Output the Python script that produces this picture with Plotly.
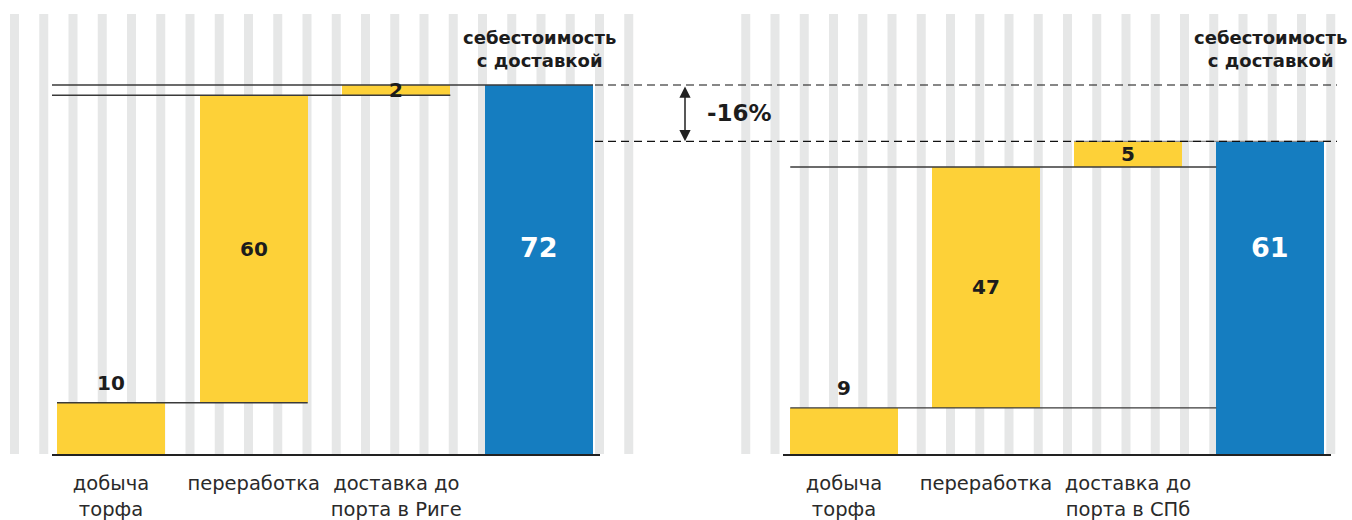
import plotly.graph_objects as go

# ---------------- data ----------------
step_names_riga = ["добыча<br>торфа", "переработка", "доставка до<br>порта в Риге"]
step_names_spb = ["добыча<br>торфа", "переработка", "доставка до<br>порта в СПб"]
total_name = "себестоимость<br>с доставкой"

riga_steps = [10, 60, 2]
riga_total = 72
spb_steps = [9, 47, 5]
spb_total = 61

change_label = "-16%"

# ---------------- style ----------------
W, H = 1352, 520
YELLOW = "#FDD138"
BLUE = "#157DC0"
STRIPE = "#E6E7E7"
LINE = "#3a3a3a"
TEXT = "#1c1c1c"
FONT = "DejaVu Sans"
PX_PER_UNIT = 5.125
BASE_PX = 454  # baseline pixel row
BAR_W = 0.757

def py(px):  # pixel row -> paper y
    return (H - px) / H

def pxx(px):  # pixel column -> paper x
    return px / W

fig = go.Figure()

panels = [
    dict(steps=riga_steps, total=riga_total, names=step_names_riga,
         xa="x", dom=(52, 600), c0=111, dc=142.67),
    dict(steps=spb_steps, total=spb_total, names=step_names_spb,
         xa="x2", dom=(783, 1331), c0=844, dc=142.0),
]

for pi, p in enumerate(panels):
    steps, total = p["steps"], p["total"]
    n = len(steps)
    bases, cum = [], 0
    for v in steps:
        bases.append(cum)
        cum += v
    xs = list(range(n + 1))
    fig.add_trace(go.Bar(
        x=xs, y=steps + [total], base=bases + [0], width=BAR_W,
        marker=dict(color=[YELLOW] * n + [BLUE], line=dict(width=0)),
        xaxis=p["xa"], yaxis="y", showlegend=False, hoverinfo="skip",
    ))
    xmin = (p["dom"][0] - p["c0"]) / p["dc"]
    xmax = (p["dom"][1] - p["c0"]) / p["dc"]
    half = BAR_W / 2
    levels = [sum(steps[:i + 1]) for i in range(n)]
    # connector lines
    for i, lv in enumerate(levels):
        if pi == 0:
            x0 = -half if i == 0 else xmin
            x1 = (i + 1) + half
        else:
            x0 = -half
            x1 = n - half
            if i == n - 1:
                x0, x1 = (n - 1) - half, xmax + 0.02
        color = LINE if not (pi == 1 and i == n - 1) else "#8a8a8a"
        fig.add_trace(go.Scatter(
            x=[x0, x1], y=[lv, lv], mode="lines",
            line=dict(color=color, width=1.3),
            xaxis=p["xa"], yaxis="y", showlegend=False, hoverinfo="skip",
        ))
    # value labels
    for i, v in enumerate(steps):
        if i == 0:
            fig.add_annotation(x=i, y=bases[i] + v, xref=p["xa"], yref="y",
                               text=str(v), showarrow=False, yanchor="bottom", yshift=6,
                               font=dict(family=FONT, size=20, color=TEXT, weight="bold"))
        else:
            fig.add_annotation(x=i, y=bases[i] + v / 2, xref=p["xa"], yref="y",
                               text=str(v), showarrow=False, yanchor="middle",
                               font=dict(family=FONT, size=20, color=TEXT, weight="bold"))
    fig.add_annotation(x=n, y=py(248), xref=p["xa"], yref="paper",
                       text=str(total), showarrow=False, yanchor="middle",
                       font=dict(family=FONT, size=27, color="white", weight="bold"))
    fig.add_annotation(x=n, y=py(49), xref=p["xa"], yref="paper",
                       text=total_name, showarrow=False, yanchor="middle",
                       font=dict(family=FONT, size=18, color=TEXT, weight="bold"))
    axis = dict(
        domain=[pxx(p["dom"][0]), pxx(p["dom"][1])], range=[xmin, xmax],
        tickmode="array", tickvals=xs, ticktext=p["names"] + [""],
        showgrid=False, zeroline=False, showline=True, linecolor="#222", linewidth=2,
        ticks="", ticklabelstandoff=11, anchor="y", automargin=False,
        tickfont=dict(family=FONT, size=19.5, color="#2a2a2a"), fixedrange=True,
    )
    if pi == 0:
        fig.update_layout(xaxis=axis)
    else:
        fig.update_layout(xaxis2=axis)

# background stripes
stripe_idx = [i for i in range(46) if not (22 <= i <= 24)]
for i in stripe_idx:
    x0 = 10 + 29.25 * i
    fig.add_shape(type="rect", xref="paper", yref="paper",
                  x0=pxx(x0), x1=pxx(x0 + 9), y0=py(BASE_PX), y1=py(14),
                  fillcolor=STRIPE, line=dict(width=0), layer="below")

# dashed comparison lines
for lv in [riga_total, spb_total]:
    fig.add_shape(type="line", xref="paper", yref="y",
                  x0=pxx(595), x1=pxx(1337), y0=lv, y1=lv,
                  line=dict(color="#111", width=1.2, dash="8px,5px"))

# double arrow
fig.add_annotation(x=pxx(685), y=spb_total, xref="paper", yref="y",
                   ax=0, ay=riga_total, axref="pixel", ayref="y",
                   text="", showarrow=True, arrowside="end+start",
                   arrowhead=2, arrowsize=1.5, arrowwidth=1.5, arrowcolor="#222",
                   standoff=0, startstandoff=0)
fig.add_annotation(x=pxx(705), y=(riga_total + spb_total) / 2, xref="paper", yref="y",
                   text=change_label, showarrow=False, xanchor="left", yanchor="middle",
                   font=dict(family=FONT, size=23, color=TEXT, weight="bold"))

fig.update_layout(
    width=W, height=H,
    margin=dict(l=0, r=0, t=0, b=0, autoexpand=False),
    paper_bgcolor="white", plot_bgcolor="rgba(0,0,0,0)",
    yaxis=dict(domain=[py(BASE_PX), 1], range=[0, BASE_PX / PX_PER_UNIT],
               visible=False, fixedrange=True, automargin=False),
    bargap=0, showlegend=False,
)

fig.write_html("out.html", config={"displayModeBar": False},
               post_script="document.body.style.margin='0';document.body.style.overflow='hidden';")
